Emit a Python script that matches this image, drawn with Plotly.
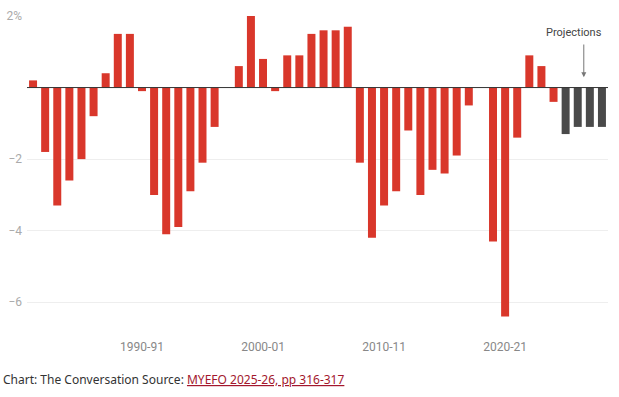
import plotly.graph_objects as go

years = [f"{y}-{str(y + 1)[-2:]}" for y in range(1981, 2029)]
balance = [0.2, -1.8, -3.3, -2.6, -2.0, -0.8, 0.4, 1.5, 1.5, -0.1,
           -3.0, -4.1, -3.9, -2.9, -2.1, -1.1, 0.0, 0.6, 2.0, 0.8,
           -0.1, 0.9, 0.9, 1.5, 1.6, 1.6, 1.7, -2.1, -4.2, -3.3,
           -2.9, -1.2, -3.0, -2.3, -2.4, -1.9, -0.5, 0.0, -4.3, -6.4,
           -1.4, 0.9, 0.6, -0.4, -1.3, -1.1, -1.1, -1.1]
projection_start = "2025-26"
x_tick_labels = ["1990-91", "2000-01", "2010-11", "2020-21"]
y_tick_vals = [2, -2, -4, -6]
y_tick_text = ["2%", "\u22122", "\u22124", "\u22126"]

RED = "#d9372b"
DARK = "#4a4a4a"
p_idx = years.index(projection_start)
colors = [RED if i < p_idx else DARK for i in range(len(years))]

fig = go.Figure(go.Bar(x=years, y=balance, marker=dict(color=colors, line=dict(width=0)),
                       hoverinfo="x+y"))

fig.update_layout(
    width=619, height=397,
    margin=dict(l=27, r=11, t=16, b=59, autoexpand=False),
    plot_bgcolor="white", paper_bgcolor="white",
    bargap=0.34,
    showlegend=False,
    font=dict(family="Roboto", color="#888"),
    xaxis=dict(type="category", categoryarray=years, range=[-0.5, len(years) - 0.5],
               tickmode="array", tickvals=x_tick_labels, ticktext=x_tick_labels,
               showgrid=False, zeroline=False, showline=False, ticks="", automargin=False,
               tickfont=dict(size=12, color="#888")),
    yaxis=dict(range=[-7, 2], tickmode="array", tickvals=y_tick_vals, ticktext=y_tick_text,
               showgrid=True, gridcolor="#eeeeee", gridwidth=1, zeroline=False, automargin=False,
               ticks="", tickfont=dict(size=12, color="#aaa"), ticklabelstandoff=4),
)

# zero baseline
fig.add_shape(type="line", xref="paper", x0=0, x1=1, yref="y", y0=0, y1=0,
              line=dict(color="#333", width=1))

# projections annotation
arrow_x = p_idx + 1.5
fig.add_annotation(x=arrow_x, y=0.29, xref="x", yref="y", ax=arrow_x, ay=1.245, axref="x", ayref="y",
                   text="", showarrow=True, arrowhead=2, arrowsize=1, arrowwidth=1, arrowcolor="#777")
fig.add_annotation(x=arrow_x - 0.8, y=1.53, xref="x", yref="y", text="Projections", showarrow=False,
                   font=dict(size=11, color="#444", family="Roboto"), yanchor="middle")

# footer
fig.add_annotation(x=0, y=-41 / 322, xref="paper", yref="paper", xanchor="left", yanchor="middle",
                   showarrow=False, xshift=-26,
                   text="Chart: The Conversation Source: <a href='https://budget.gov.au' style='color:#a3172d'><u>MYEFO 2025-26, pp 316-317</u></a>",
                   font=dict(size=12, color="#333", family="Noto Sans"))

fig.write_html("out.html", config={"displayModeBar": False},
               post_script="document.body.style.margin='0';document.body.style.padding='0';")
